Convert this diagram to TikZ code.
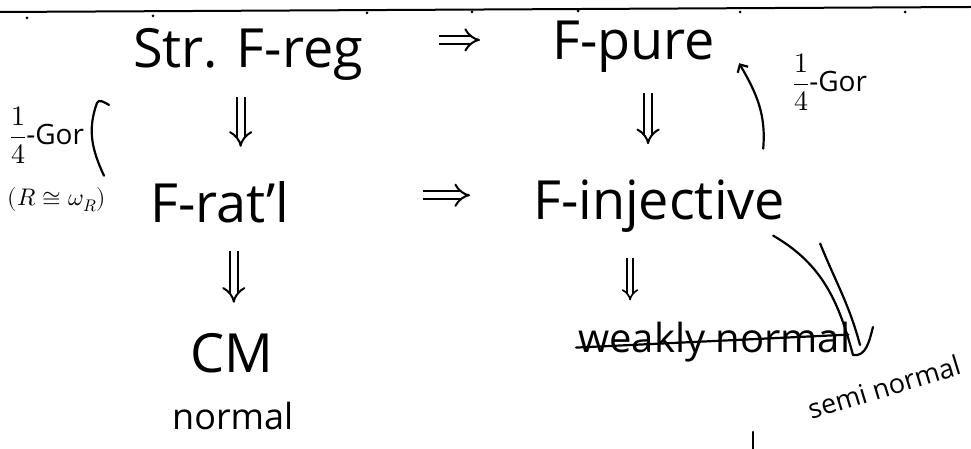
\documentclass[tikz,border=0pt]{standalone}
\usepackage{amsmath}
\usepackage{fontspec}
\usepackage{unicode-math}
\setmainfont{Open Sans}
\setmathfont{Latin Modern Math}
\usetikzlibrary{arrows.meta, calc}

\begin{document}
\begin{tikzpicture}[x=1pt, y=1pt,
	big/.style={font=\fontsize{54}{60}\selectfont, inner sep=0pt, anchor=base west},
	small/.style={font=\fontsize{40}{46}\selectfont, inner sep=0pt, anchor=base west},
	side/.style={font=\fontsize{28}{32}\selectfont, inner sep=0pt},
	impl/.style={double, double distance=6pt, line width=2pt, -{Implies}},
	pen/.style={line width=2.2pt, line cap=round, line join=round}
]
\useasboundingbox (0,0) rectangle (971,449);

% Page rule
\draw[line width=2pt] (0,437) -- (971,442);
\foreach \x/\y in {27/431,153/433,367/436,472/437,578/438,740/437,905/437}
	\fill (\x,\y) circle (1.5);

% Conditions
\node[big] (strreg) at (133,381) {Str. F-reg};
\node[big] (fpure) at (552,389) {F-pure};
\node[big] (frat) at (150,226) {F-rat'l};
\node[big] (finj) at (533,229) {F-injective};
\node[big] (cm) at (190,76) {CM};
\node[small, font=\fontsize{36}{40}\selectfont] (norm) at (172,19) {normal};
\node[small] (wkn) at (578,96) {weakly normal};
\node[side, font=\fontsize{27}{30}\selectfont, rotate=17] (semi) at (884,62) {semi normal};

% Side labels
\node[side] (qgl) at (47,314) {$\dfrac{1}{4}$-Gor};
\node[side, font=\fontsize{24}{28}\selectfont] (rew) at (57,249) {$(R\cong\omega_R)$};
\node[side] (qgr) at (830,367) {$\dfrac{1}{4}$-Gor};

% Implications
\draw[impl, shorten <=76pt, shorten >=72pt] ([yshift=15pt]strreg.east) -- ([yshift=15pt]strreg.east -| fpure.west);
\draw[impl, shorten <=133pt, shorten >=63pt] ([yshift=7.5pt]frat.east) -- ([yshift=7.5pt]frat.east -| finj.west);
\draw[impl, shorten <=16pt, shorten >=35pt] ([xshift=-7.5pt]strreg.south) -- ([xshift=-7.5pt]strreg.south |- frat.north);
\draw[impl, shorten <=20pt, shorten >=36pt] ([xshift=14.5pt]fpure.south) -- ([xshift=14.5pt]fpure.south |- finj.north);
\draw[impl, shorten <=27pt, shorten >=31pt] ([xshift=14pt]frat.south) -- ([xshift=14pt]frat.south |- cm.north);
\draw[impl, line width=1.6pt, double distance=4pt, shorten <=25pt, shorten >=22pt] ([xshift=-29pt]finj.south) -- ([xshift=-29pt]finj.south |- wkn.north);

% Gorenstein arrows
\draw[pen] ($(frat.west)+(-46,27)$) to[out=115, in=250] ($(strreg.west)+(-36,-48)$)
	to[out=70, in=150] ($(strreg.west)+(-24,-50)$);
\draw[pen, -{Straight Barb[length=6pt, width=12pt]}] ($(finj.east)+(-22,58)$) to[out=85, in=-60] ($(fpure.east)+(24,-16)$);

% struck out target, new target
\draw[pen] ($(wkn.west)+(-2,-5)$) -- ($(wkn.east)+(-2,8)$);
\coordinate (tip) at ($(semi.center)+(-31,32)$);
\draw[pen] ($(finj.east)+(-12,-29)$) to[out=-30, in=105] (tip);
\draw[pen] ($(finj.east)+(35,-37)$) to[out=-68, in=105] ($(tip)+(7,10)$);
\draw[pen] (tip) to[out=-10, in=-105] ++(20,28);

% stray mark
\draw[pen] (753,0) -- (753,17);

\end{tikzpicture}
\end{document}
